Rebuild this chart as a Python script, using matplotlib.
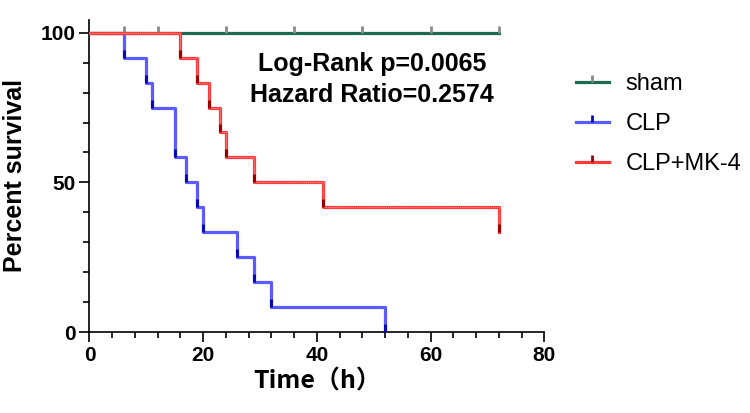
import matplotlib
matplotlib.use("Agg")
import matplotlib.pyplot as plt
from matplotlib.lines import Line2D
from matplotlib.ticker import MultipleLocator

plt.rcParams['font.family'] = ['Liberation Sans', 'Noto Sans CJK SC', 'DejaVu Sans']

# --- data (Kaplan-Meier steps) ---
sham_times = [0, 72]
sham_surv = [100, 100]
sham_censor = [6, 12, 24, 36, 48, 60, 72]

clp_times = [0, 6, 10, 11, 15, 17, 19, 20, 26, 29, 32, 52]
clp_surv = [100, 91.67, 83.33, 75, 58.33, 50, 41.67, 33.33, 25, 16.67, 8.33, 0]

mk4_times = [0, 16, 19, 21, 23, 24, 29, 41, 72]
mk4_surv = [100, 91.67, 83.33, 75, 66.67, 58.33, 50, 41.67, 33.33]

labels = ["sham", "CLP", "CLP+MK-4"]

# colours
c_sham, c_sham_m = '#1d6b4f', '#8a8a8a'
c_clp, c_clp_m = '#5b5bff', '#0a0ab0'
c_mk4, c_mk4_m = '#ff3a3a', '#9a0000'

fig = plt.figure(figsize=(7.5, 4.13), dpi=100)
ax = fig.add_axes([0.1193, 0.196, 0.6064, 0.756])

lw = 2.3
# sham
ax.step(sham_times, sham_surv, where='post', color=c_sham, lw=lw, zorder=2)
ax.plot(sham_censor, [100] * len(sham_censor), ls='none', marker=2, ms=5,
        mew=2, color=c_sham_m, zorder=2)
# CLP
ax.step(clp_times, clp_surv, where='post', color=c_clp, lw=lw, zorder=3)
ax.plot(clp_times[1:], clp_surv[1:], ls='none', marker=2, ms=6, mew=2.2,
        color=c_clp_m, zorder=3)
# CLP + MK-4 (dotted-looking red line)
ax.step(mk4_times, mk4_surv, where='post', color=c_mk4, lw=lw, zorder=4)
ax.step(mk4_times, mk4_surv, where='post', color='white', lw=0.7, alpha=0.45,
        ls=(0, (1, 1)), zorder=4)
ax.plot(mk4_times[1:], mk4_surv[1:], ls='none', marker=2, ms=6, mew=2.2,
        color=c_mk4_m, zorder=4)

ax.set_xlim(0, 80)
ax.set_ylim(0, 104.3)
ax.xaxis.set_major_locator(MultipleLocator(20))
ax.xaxis.set_minor_locator(MultipleLocator(4))
ax.set_yticks([0, 50, 100])
ax.yaxis.set_minor_locator(MultipleLocator(10))

for s in ['top', 'right']:
    ax.spines[s].set_visible(False)
for s in ['left', 'bottom']:
    ax.spines[s].set_linewidth(1.2)
ax.tick_params(which='major', length=7, width=1.2, labelsize=15, pad=3)
ax.tick_params(which='minor', length=4, width=1.2)
for t in ax.get_xticklabels() + ax.get_yticklabels():
    t.set_fontweight('bold')

ax.set_ylabel('Percent survival', fontsize=18, fontweight='bold', labelpad=10)
ax.set_xlabel('Time（h）', fontsize=18, fontweight='bold', labelpad=3,
              family=['Noto Sans CJK SC', 'Liberation Sans'])

ax.text(49.7, 89.6, 'Log-Rank p=0.0065', ha='center', va='center',
        fontsize=18, fontweight='bold')
ax.text(49.7, 79.3, 'Hazard Ratio=0.2574', ha='center', va='center',
        fontsize=18, fontweight='bold')

handles = [
    Line2D([0], [0], color=c_sham, lw=lw, marker=2, ms=5, mew=2, mec=c_sham_m),
    Line2D([0], [0], color=c_clp, lw=lw, marker=2, ms=5, mew=2, mec=c_clp_m),
    Line2D([0], [0], color=c_mk4, lw=lw, marker=2, ms=5, mew=2, mec=c_mk4_m),
]
fig.legend(handles, labels, loc='upper left', bbox_to_anchor=(0.755, 0.845),
           frameon=False, fontsize=17, handlelength=1.4, handletextpad=0.7,
           labelspacing=0.75, numpoints=1, borderaxespad=0)

fig.savefig('out.png', dpi=100)
